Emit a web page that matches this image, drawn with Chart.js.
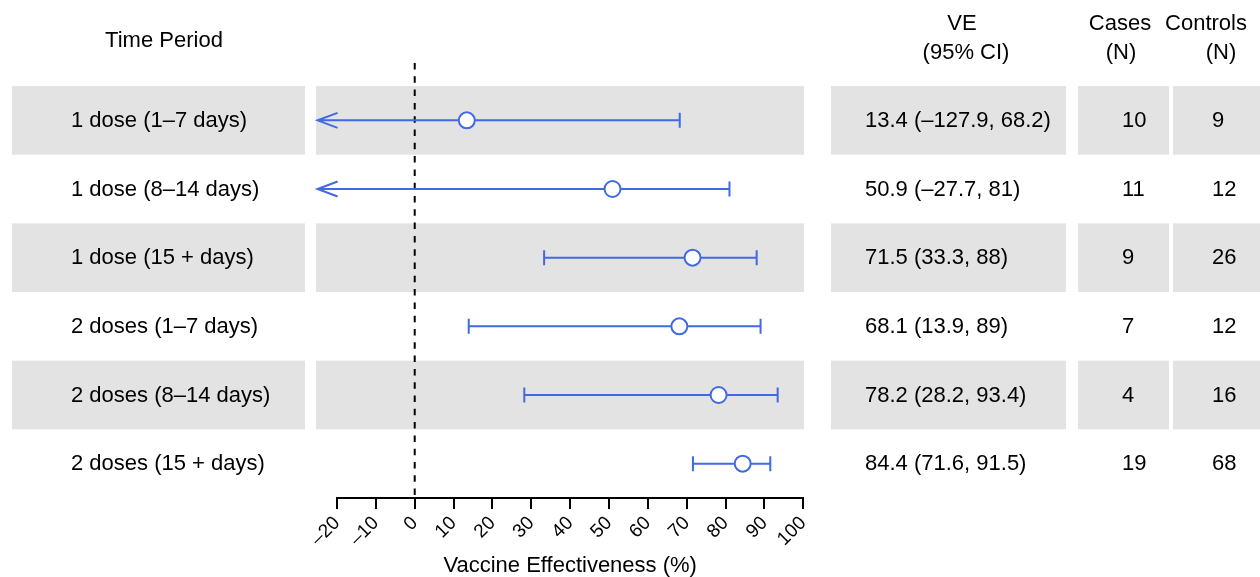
<!DOCTYPE html>
<html>
<head>
<meta charset="utf-8">
<script src="https://cdn.jsdelivr.net/npm/chart.js@4/dist/chart.umd.min.js"></script>
<style>
  html, body { margin: 0; padding: 0; background: #ffffff; }
  #wrap { width: 1260px; height: 577px; }
</style>
</head>
<body>
<div id="wrap"><canvas id="c" width="1260" height="577"></canvas></div>
<script>
// ---- data ----
const periods = ['1 dose (1–7 days)', '1 dose (8–14 days)', '1 dose (15 + days)',
                 '2 doses (1–7 days)', '2 doses (8–14 days)', '2 doses (15 + days)'];
const ve       = [13.4, 50.9, 71.5, 68.1, 78.2, 84.4];
const ciLow    = [-127.9, -27.7, 33.3, 13.9, 28.2, 71.6];
const ciHigh   = [68.2, 81, 88, 89, 93.4, 91.5];
const cases    = [10, 11, 9, 7, 4, 19];
const controls = [9, 12, 26, 12, 16, 68];
const xTicks   = [-20, -10, 0, 10, 20, 30, 40, 50, 60, 70, 80, 90, 100];
const arrowAt  = -25;   // CI values below this are drawn as arrows
const headers  = { period: 'Time Period', ve: ['VE', '(95% CI)'], cases: ['Cases', '(N)'], controls: ['Controls', '(N)'] };
const xTitle   = 'Vaccine Effectiveness (%)';

// ---- styles ----
const FONT = '"Liberation Sans", Arial, Helvetica, sans-serif';
const FS = 22;
const BLUE = '#4169E1';
const BAND = '#E3E3E3';
const dash = s => String(s).replace('-', '–');
const veText = periods.map((_, i) => `${dash(ve[i])} (${dash(ciLow[i])}, ${dash(ciHigh[i])})`);

const bandCols = [[12, 305], [316, 804], [831, 1066], [1078, 1169], [1173, 1260]];

const tablePlugin = {
  id: 'forestTable',
  beforeDraw(chart) {
    const ctx = chart.ctx;
    const y = chart.scales.y;
    const step = Math.abs(y.getPixelForValue(1) - y.getPixelForValue(0));
    ctx.save();
    ctx.fillStyle = BAND;
    periods.forEach((p, i) => {
      if (i % 2 !== 0) return;
      const cy = y.getPixelForValue(i);
      bandCols.forEach(([a, b]) => ctx.fillRect(a, cy - step / 2, b - a, step));
    });
    // texts
    ctx.fillStyle = '#000';
    ctx.font = `${FS}px ${FONT}`;
    ctx.textBaseline = 'alphabetic';
    ctx.textAlign = 'center';
    ctx.fillText(headers.period, 164, 46.5);
    ctx.fillText(headers.ve[0], 962, 29.5);
    ctx.fillText(headers.ve[1], 966, 58.5);
    ctx.fillText(headers.cases[0], 1120, 29.5);
    ctx.fillText(headers.cases[1], 1121, 58.5);
    ctx.fillText(headers.controls[0], 1206, 29.5);
    ctx.fillText(headers.controls[1], 1221, 58.5);
    ctx.textAlign = 'left';
    ctx.textBaseline = 'middle';
    periods.forEach((p, i) => {
      const cy = y.getPixelForValue(i) + 0.5;
      ctx.fillText(p, 71, cy);
      ctx.fillText(veText[i], 865, cy);
      ctx.fillText(String(cases[i]), 1122, cy);
      ctx.fillText(String(controls[i]), 1212, cy);
    });
    ctx.restore();
  },
  beforeDatasetsDraw(chart) {
    const ctx = chart.ctx;
    const x = chart.scales.x, y = chart.scales.y;
    ctx.save();
    // reference line at 0
    ctx.strokeStyle = '#000';
    ctx.lineWidth = 2;
    ctx.setLineDash([6.5, 6.8]);
    const x0 = x.getPixelForValue(0);
    ctx.beginPath();
    ctx.moveTo(x0, 63);
    ctx.lineTo(x0, chart.chartArea.bottom);
    ctx.stroke();
    ctx.setLineDash([]);
    // CI bars
    ctx.strokeStyle = BLUE;
    ctx.lineWidth = 2;
    periods.forEach((p, i) => {
      const cy = y.getPixelForValue(i);
      const clipped = ciLow[i] < arrowAt;
      const xl = x.getPixelForValue(clipped ? arrowAt : ciLow[i]);
      const xh = x.getPixelForValue(ciHigh[i]);
      ctx.beginPath();
      ctx.moveTo(xl, cy); ctx.lineTo(xh, cy);
      ctx.moveTo(xh, cy - 7.5); ctx.lineTo(xh, cy + 7.5);
      if (clipped) {
        ctx.moveTo(xl + 20, cy - 7.5); ctx.lineTo(xl, cy); ctx.lineTo(xl + 20, cy + 7.5);
      } else {
        ctx.moveTo(xl, cy - 7.5); ctx.lineTo(xl, cy + 7.5);
      }
      ctx.stroke();
    });
    ctx.restore();
  }
};

new Chart(document.getElementById('c'), {
  type: 'scatter',
  data: {
    datasets: [{
      data: periods.map((p, i) => ({ x: ve[i], y: p })),
      pointRadius: 8,
      pointHoverRadius: 8,
      pointBackgroundColor: '#ffffff',
      pointBorderColor: BLUE,
      pointBorderWidth: 2,
      showLine: false
    }]
  },
  options: {
    responsive: false,
    animation: false,
    events: [],
    layout: { padding: { left: 337, right: 456.7, top: 86, bottom: 0 } },
    plugins: { legend: { display: false }, tooltip: { enabled: false } },
    scales: {
      x: {
        type: 'linear',
        min: -20, max: 100,
        afterBuildTicks: axis => { axis.ticks = xTicks.map(v => ({ value: v })); },
        afterFit: axis => { axis.height = 79; },
        border: { display: true, color: '#000', width: 2 },
        grid: { display: true, drawOnChartArea: false, drawTicks: true, tickLength: 11, color: '#000', lineWidth: 2 },
        ticks: {
          color: '#000', minRotation: 45, maxRotation: 45, padding: 3,
          font: { family: FONT, size: 19 },
          callback: v => dash(v)
        },
        title: { display: true, text: xTitle, color: '#000', font: { family: FONT, size: FS }, padding: { top: 0, bottom: -2 } }
      },
      y: {
        type: 'category',
        labels: periods,
        offset: true,
        display: false,
        grid: { display: false }
      }
    }
  },
  plugins: [tablePlugin]
});
</script>
</body>
</html>
